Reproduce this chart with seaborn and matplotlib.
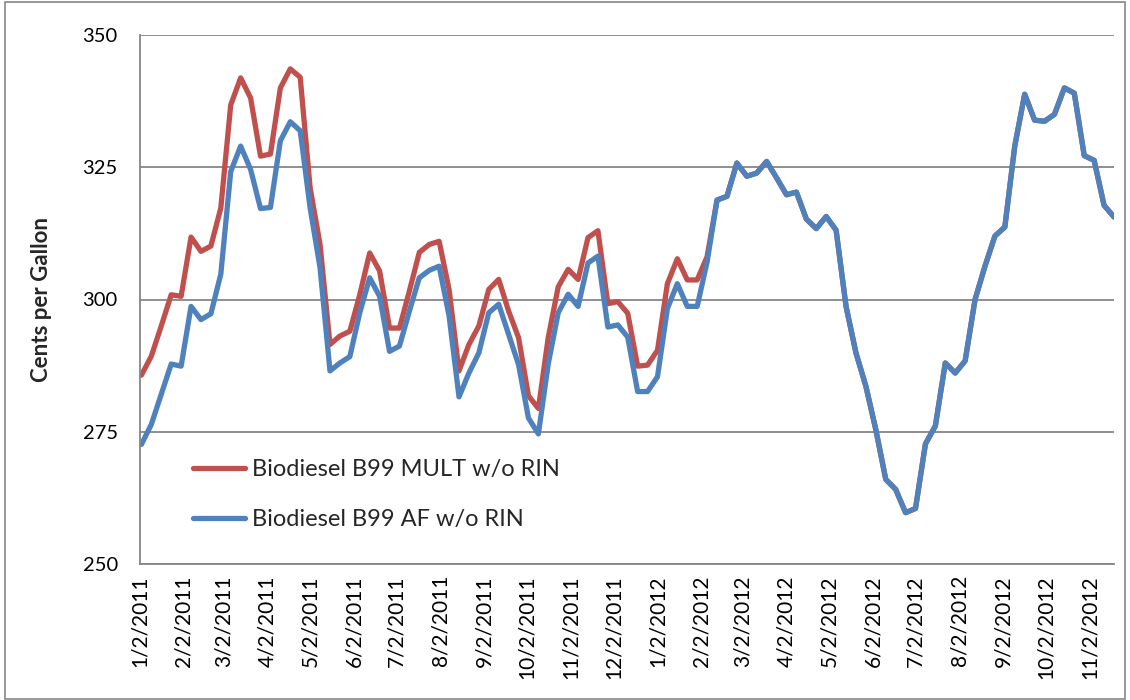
import pandas as pd
import seaborn as sns
import matplotlib.pyplot as plt
import matplotlib.dates as mdates
from matplotlib.ticker import FuncFormatter
from matplotlib.patches import Rectangle

# weekly prices, cents per gallon
weeks = pd.date_range("2011-01-03", periods=99, freq="7D")
mult = [285.7, 289.3, 295.0, 300.9, 300.6, 311.8, 309.1, 310.1, 317.3, 336.8,
        341.9, 338.1, 327.1, 327.5, 340.0, 343.6, 342.0, 321.1, 310.4, 291.5,
        293.1, 294.0, 300.9, 308.8, 305.4, 294.6, 294.6, 301.6, 308.9, 310.4,
        311.0, 301.9, 286.5, 291.5, 295.0, 301.9, 303.8, 297.8, 292.8, 281.8,
        279.4, 292.9, 302.4, 305.7, 303.8, 311.7, 313.0, 299.2, 299.6, 297.4,
        287.4, 287.6, 290.4, 303.0, 307.7, 303.7, 303.7, 308.1, 318.8, 319.5,
        325.8, 323.3, 323.9, 326.1, 323.0, 319.8, 320.3, 315.2, 313.4, 315.7,
        313.1, 298.7, 289.9, 283.6, 275.4, 266.0, 264.1, 259.7, 260.5, 272.7,
        276.1, 288.0, 286.1, 288.4, 300.0, 306.3, 312.0, 313.7, 329.0, 338.8,
        333.9, 333.7, 335.0, 340.0, 339.0, 327.2, 326.3, 317.8, 315.6]
af = [272.6, 276.4, 282.1, 287.8, 287.4, 298.7, 296.2, 297.3, 304.8, 324.2,
      329.0, 324.6, 317.2, 317.4, 330.0, 333.6, 331.9, 317.3, 306.0, 286.5,
      288.0, 289.2, 297.5, 304.1, 300.6, 290.2, 291.2, 297.8, 304.1, 305.5,
      306.3, 296.9, 281.6, 286.1, 289.9, 297.5, 299.1, 293.4, 287.7, 277.6,
      274.6, 287.9, 297.5, 301.0, 298.7, 306.9, 308.2, 294.8, 295.2, 292.9,
      282.6, 282.6, 285.4, 298.3, 303.0, 298.7, 298.7, 307.1, 318.8, 319.5,
      325.8, 323.3, 323.9, 326.1, 323.0, 319.8, 320.3, 315.2, 313.4, 315.7,
      313.1, 298.7, 289.9, 283.6, 275.4, 266.0, 264.1, 259.7, 260.5, 272.7,
      276.1, 288.0, 286.1, 288.4, 300.0, 306.3, 312.0, 313.7, 329.0, 338.8,
      333.9, 333.7, 335.0, 340.0, 339.0, 327.2, 326.3, 317.8, 315.6]
names = ["Biodiesel B99 MULT w/o RIN", "Biodiesel B99 AF w/o RIN"]
yticks = [250, 275, 300, 325, 350]

df = pd.DataFrame({
    "date": list(weeks) * 2,
    "cents": mult + af,
    "series": [names[0]] * len(mult) + [names[1]] * len(af),
})

sns.set_style("white")
plt.rcParams["font.family"] = ["Lato", "DejaVu Sans"]
grey = "#868686"

fig = plt.figure(figsize=(11.3, 7), dpi=100)
ax = fig.add_axes([140 / 1130, 1 - 564 / 700, 974 / 1130, 529 / 700])

sns.lineplot(data=df, x="date", y="cents", hue="series", hue_order=names,
             palette={names[0]: "#C0504D", names[1]: "#4F81BD"},
             linewidth=3.8, ax=ax)

ax.set_ylim(250, 350)
ax.set_yticks(yticks)
ax.set_xlim(pd.Timestamp("2011-01-02"), weeks[-1])
ax.xaxis.set_major_locator(mdates.MonthLocator(bymonthday=2))
ax.xaxis.set_major_formatter(FuncFormatter(
    lambda v, pos: "{d.month}/{d.day}/{d.year}".format(d=mdates.num2date(v))))

ax.yaxis.grid(True, color=grey, linewidth=1.3)
ax.set_axisbelow(True)
for side in ["top", "right"]:
    ax.spines[side].set_visible(False)
for side in ["left", "bottom"]:
    ax.spines[side].set_color(grey)
    ax.spines[side].set_linewidth(1.3)
ax.tick_params(axis="both", direction="out", length=5, width=1.3, color=grey,
               labelcolor="black")
ax.tick_params(axis="y", pad=11, labelsize=14.5)
ax.tick_params(axis="x", pad=3, labelsize=15)
plt.setp(ax.get_xticklabels(), rotation=90)

ax.set_xlabel("")
ax.set_ylabel("Cents per Gallon", fontsize=16, fontweight="bold", labelpad=22)

ax.legend(loc="center left", bbox_to_anchor=(0.054, 0.131), frameon=False,
          fontsize=17, handlelength=2.2, handletextpad=0.3, labelspacing=1.25,
          borderpad=0, borderaxespad=0)

fig.patches.append(Rectangle((5 / 1130, 1 / 700), 1120 / 1130, 697 / 700,
                             transform=fig.transFigure, fill=False,
                             edgecolor=grey, linewidth=1.2))

plt.savefig("out.png", dpi=100)
plt.close()
